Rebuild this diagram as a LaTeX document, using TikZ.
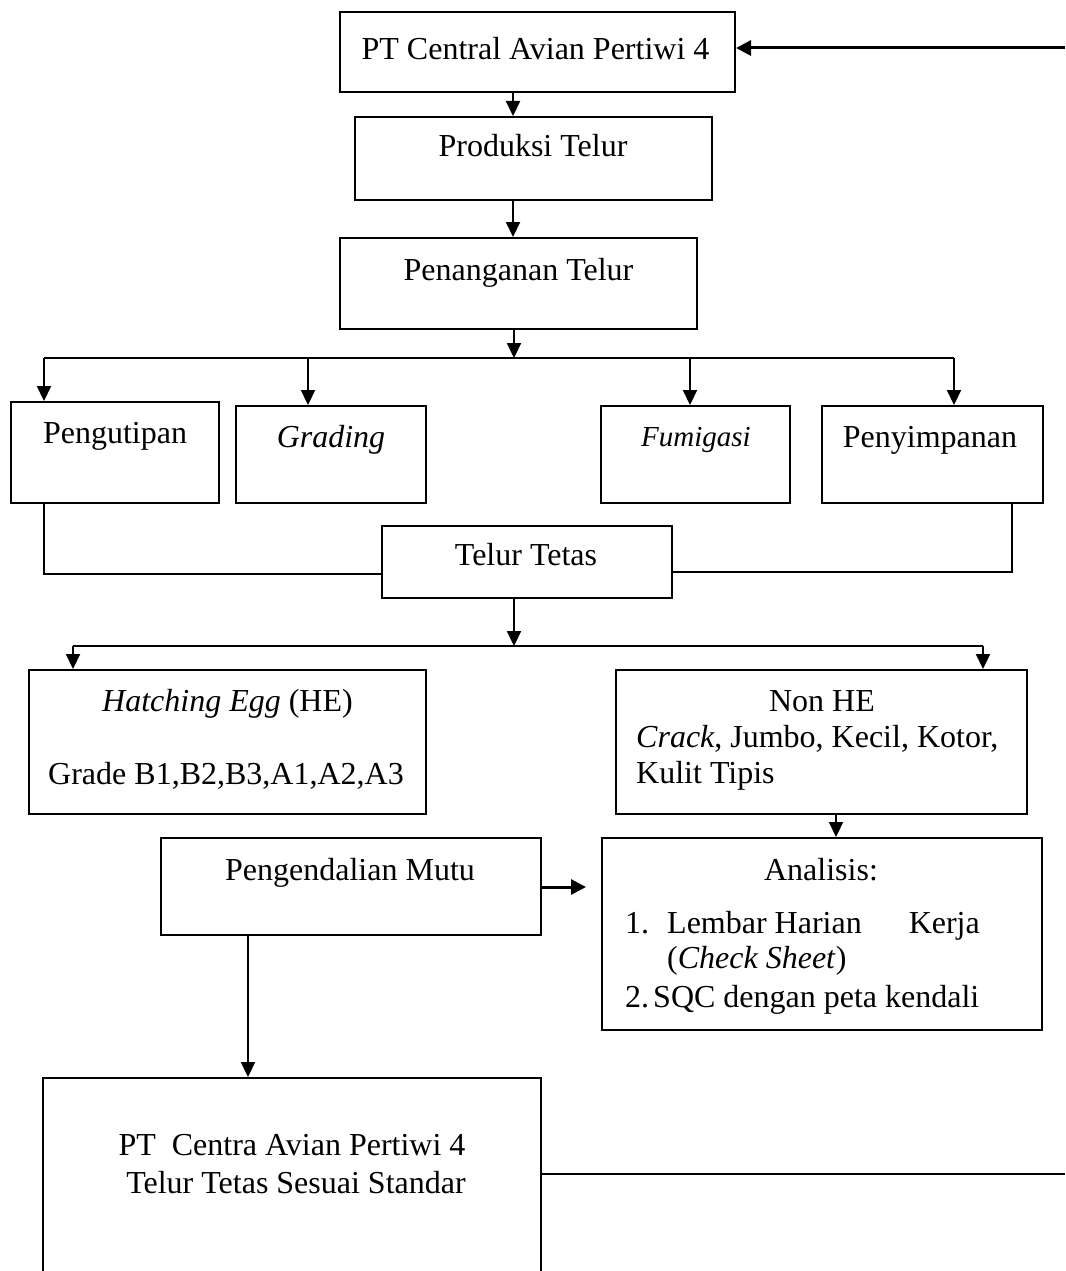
\documentclass[tikz,border=0pt]{standalone}
\usepackage{fontspec}
\setmainfont{Liberation Serif}
\usetikzlibrary{arrows.meta,calc}
\begin{document}
\begin{tikzpicture}[x=1pt,y=-1pt,
  box/.style={draw,line width=2pt,inner sep=0pt,rectangle},
  txt/.style={inner sep=0pt,anchor=base,font=\fontsize{32}{37}\selectfont},
  ln/.style={line width=2pt},
  arr/.style={line width=2.2pt,-{Triangle[length=15pt,width=14pt]}},
  harr/.style={line width=3pt,-{Triangle[length=15pt,width=15pt]}}]
\useasboundingbox (0,0) rectangle (1065,1271);
\clip (0,0) rectangle (1065,1271);

% boxes
\node[box,minimum width=395pt,minimum height=80pt] (top) at (537.5,52) {};
\node[box,minimum width=357pt,minimum height=83pt] (prod) at (533.5,158.5) {};
\node[box,minimum width=357pt,minimum height=91pt] (pen) at (518.5,283.5) {};
\node[box,minimum width=208pt,minimum height=101pt] (peng) at (115,452.5) {};
\node[box,minimum width=190pt,minimum height=97pt] (grad) at (331,454.5) {};
\node[box,minimum width=189pt,minimum height=97pt] (fum) at (695.5,454.5) {};
\node[box,minimum width=221pt,minimum height=97pt] (peny) at (932.5,454.5) {};
\node[box,minimum width=290pt,minimum height=72pt] (telur) at (527,562) {};
\node[box,minimum width=397pt,minimum height=144pt] (he) at (227.5,742) {};
\node[box,minimum width=411pt,minimum height=144pt] (nonhe) at (821.5,742) {};
\node[box,minimum width=380pt,minimum height=97pt] (mutu) at (351,886.5) {};
\node[box,minimum width=440pt,minimum height=192pt] (anal) at (822,934) {};
\node[box,minimum width=498pt,minimum height=222pt] (std) at (292,1189) {};

% texts
\node[txt] (t1) at (535.5,60) {PT Central Avian Pertiwi 4};
\node[txt] (t2) at (533,157) {Produksi Telur};
\node[txt] (t3) at (518.5,280) {Penanganan Telur};
\node[txt] (t4) at (115,443) {Pengutipan};
\node[txt] (t5) at (331,447) {\textit{Grading}};
\node[txt,font=\fontsize{29}{34}\selectfont] (t6) at (696,446) {\textit{Fumigasi}};
\node[txt] (t7) at (930,447) {Penyimpanan};
\node[txt] (t8) at (526,565) {Telur Tetas};
\node[txt] (t9) at (227.5,711) {\textit{Hatching Egg} (HE)};
\node[txt] (t10) at (226,784) {Grade B1,B2,B3,A1,A2,A3};
\node[txt] (t11) at (822,711) {Non HE};
\node[txt,anchor=base west] (t12) at (636,747) {\textit{Crack}, Jumbo, Kecil, Kotor,};
\node[txt,anchor=base west] (t13) at (636,783) {Kulit Tipis};
\node[txt] (t14) at (350,880) {Pengendalian Mutu};
\node[txt] (t15) at (821,880) {Analisis:};
\node[txt,anchor=base west] (t16) at (625,933) {1.};
\node[txt,anchor=base west] (t17) at (667,933) {Lembar Harian};
\node[txt,anchor=base east] (t18) at (980,933) {Kerja};
\node[txt,anchor=base west] (t19) at (667,968) {(\textit{Check Sheet})};
\node[txt,anchor=base west] (t20) at (625,1007) {2.};
\node[txt,anchor=base west] (t21) at (653,1007) {SQC dengan peta kendali};
\node[txt] (t22) at (292,1155) {PT\ \ Centra Avian Pertiwi 4};
\node[txt] (t23) at (296,1193) {Telur Tetas Sesuai Standar};

% coordinates
\coordinate (inR) at (1065,48);
\coordinate (xa) at (513,0);
\coordinate (bus1) at (514,358);
\coordinate (b1) at (44,358);
\coordinate (b2) at (308,358);
\coordinate (b3) at (690,358);
\coordinate (b4) at (954,358);
\coordinate (j1) at (44,574);
\coordinate (j2) at (1012,572);
\coordinate (bus2) at (514,646);
\coordinate (c1) at (73,646);
\coordinate (c2) at (983,646);
\coordinate (xn) at (836,0);
\coordinate (mtip) at (586,887);
\coordinate (xm) at (248,0);
\coordinate (outR) at (1065,1174);

% connectors
\draw[harr] (inR) -- (inR -| top.east);
\draw[arr] (top.south -| xa) -- (prod.north -| xa);
\draw[arr] (prod.south -| xa) -- (pen.north -| xa);
\draw[arr] (pen.south -| bus1) -- (bus1);
\draw[ln] (b1) -- (b4);
\draw[arr] (b1) -- (peng.north -| b1);
\draw[arr] (b2) -- (grad.north -| b2);
\draw[arr] (b3) -- (fum.north -| b3);
\draw[arr] (b4) -- (peny.north -| b4);
\draw[ln] (peng.south -| j1) -- (j1) -- (j1 -| telur.west);
\draw[ln] (peny.south -| j2) -- (j2) -- (j2 -| telur.east);
\draw[arr] (telur.south -| bus2) -- (bus2);
\draw[ln] (c1) -- (c2);
\draw[arr] (c1) -- (he.north -| c1);
\draw[arr] (c2) -- (nonhe.north -| c2);
\draw[arr] (nonhe.south -| xn) -- (anal.north -| xn);
\draw[harr] (mtip -| mutu.east) -- (mtip);
\draw[arr] (mutu.south -| xm) -- (std.north -| xm);
\draw[ln] (outR -| std.east) -- (outR);
\end{tikzpicture}
\end{document}
